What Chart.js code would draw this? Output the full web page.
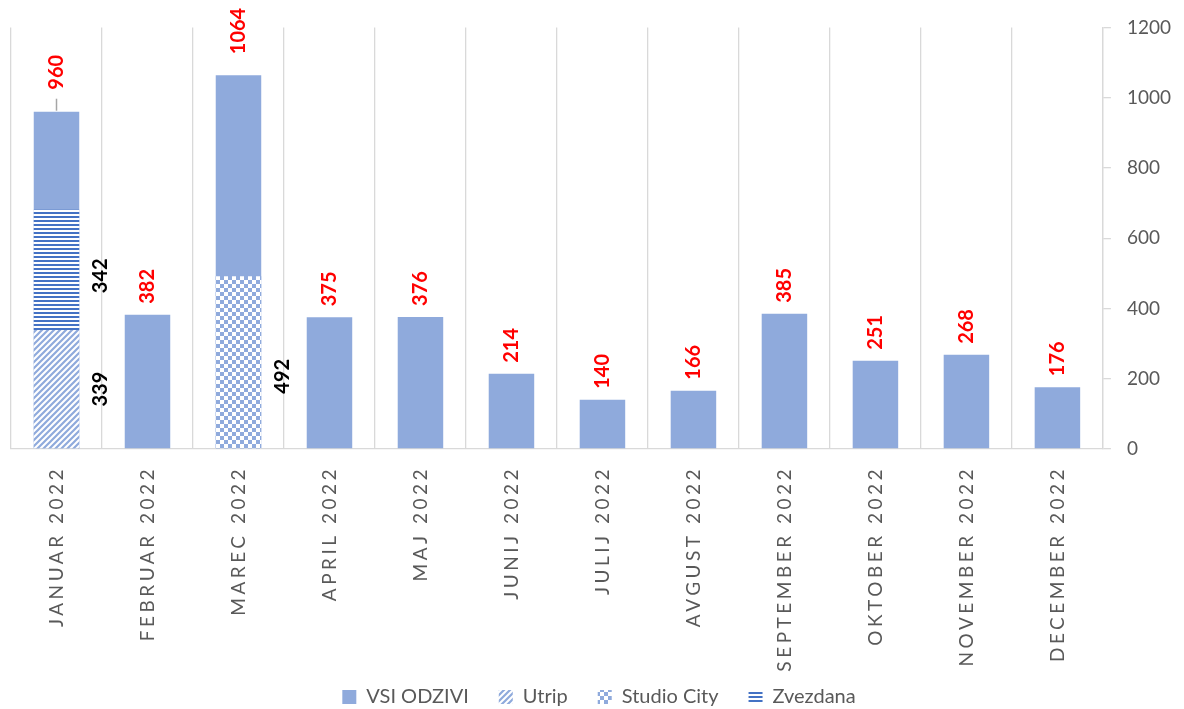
<!DOCTYPE html>
<html>
<head>
<meta charset="utf-8">
<script src="https://cdn.jsdelivr.net/npm/chart.js"></script>
<style>
  html, body { margin: 0; padding: 0; background: #fff; }
  #wrap { width: 1184px; height: 709px; }
</style>
</head>
<body>
<div id="wrap"><canvas id="myChart"></canvas></div>
<script>
const months = ['JANUAR 2022', 'FEBRUAR 2022', 'MAREC 2022', 'APRIL 2022', 'MAJ 2022', 'JUNIJ 2022',
  'JULIJ 2022', 'AVGUST 2022', 'SEPTEMBER 2022', 'OKTOBER 2022', 'NOVEMBER 2022', 'DECEMBER 2022'];
const vsiOdzivi = [960, 382, 1064, 375, 376, 214, 140, 166, 385, 251, 268, 176];
const utrip = [339, null, null, null, null, null, null, null, null, null, null, null];
const studioCity = [null, null, 492, null, null, null, null, null, null, null, null, null];
const zvezdana = [342, null, null, null, null, null, null, null, null, null, null, null];
const yMin = 0, yMax = 1200, yStep = 200;

const gray = '#595959';
const barBlue = '#8faadc';

function makePattern(w, h, paint) {
  const c = document.createElement('canvas');
  c.width = w; c.height = h;
  const g = c.getContext('2d');
  g.fillStyle = '#fff';
  g.fillRect(0, 0, w, h);
  paint(g);
  return document.getElementById('myChart').getContext('2d').createPattern(c, 'repeat');
}

// diagonal "/" stripes
const utripFill = makePattern(6, 6, g => {
  g.strokeStyle = barBlue;
  g.lineWidth = 2.2;
  g.beginPath();
  g.moveTo(-1, 7); g.lineTo(7, -1);
  g.moveTo(-4, 4); g.lineTo(4, -4);
  g.moveTo(2, 10); g.lineTo(10, 2);
  g.stroke();
});
// checkerboard
const studioFill = makePattern(8, 8, g => {
  g.fillStyle = barBlue;
  g.fillRect(0, 0, 4, 4);
  g.fillRect(4, 4, 4, 4);
});
// horizontal lines
const zvezdanaFill = makePattern(4, 4, g => {
  g.fillStyle = '#4472c4';
  g.fillRect(0, 0, 4, 2);
});

// how far above the bar the red label ends (a few were moved up in the original)
const redGap = { 0: 22, 2: 21 };
// small vertical nudges of the black labels, by dataset index
const blackNudge = { 2: 14, 3: 6 };

const valueLabels = {
  id: 'valueLabels',
  afterDatasetsDraw(chart) {
    // x tick labels are drawn after this (ticks.z = 1), spaced out like the original
    chart.ctx.letterSpacing = '3.5px';
  },
  afterDraw(chart) {
    const ctx = chart.ctx;
    ctx.letterSpacing = '0px';
    chart.data.datasets.forEach((ds, di) => {
      const meta = chart.getDatasetMeta(di);
      meta.data.forEach((bar, i) => {
        const v = ds.data[i];
        if (v == null) return;
        ctx.save();
        ctx.font = 'bold 20px Lato';
        ctx.textBaseline = 'middle';
        if (di === 0) {
          const gap = redGap[i] || 11;
          if (i === 0) {
            ctx.strokeStyle = '#a6a6a6';
            ctx.lineWidth = 1.5;
            ctx.beginPath();
            ctx.moveTo(bar.x, bar.y - 1);
            ctx.lineTo(bar.x, bar.y - 13);
            ctx.stroke();
          }
          ctx.translate(bar.x, bar.y - gap);
          ctx.rotate(-Math.PI / 2);
          ctx.textAlign = 'left';
          ctx.fillStyle = '#ff0000';
        } else {
          ctx.translate(bar.x + bar.width / 2 + 21, (bar.y + bar.base) / 2 + (blackNudge[di] || 0));
          ctx.rotate(-Math.PI / 2);
          ctx.textAlign = 'center';
          ctx.fillStyle = '#000';
        }
        ctx.fillText(String(v), 0, 0);
        ctx.restore();
      });
    });
  }
};

const data = {
  labels: months,
  datasets: [
    { label: 'VSI ODZIVI', data: vsiOdzivi, backgroundColor: barBlue, stack: 'all', order: 1 },
    { label: 'Utrip', data: utrip, backgroundColor: utripFill, stack: 'parts', order: 0 },
    { label: 'Studio City', data: studioCity, backgroundColor: studioFill, stack: 'parts', order: 0 },
    { label: 'Zvezdana', data: zvezdana, backgroundColor: zvezdanaFill, stack: 'parts', order: 0 }
  ]
};

const config = {
  type: 'bar',
  data: data,
  options: {
    responsive: true,
    maintainAspectRatio: false,
    animation: false,
    grouped: false,
    categoryPercentage: 1,
    barPercentage: 0.5,
    layout: { padding: { top: 27, left: 11, right: -3, bottom: -8 } },
    plugins: {
      tooltip: { enabled: false },
      legend: {
        position: 'bottom',
        labels: {
          boxWidth: 14,
          boxHeight: 14,
          padding: 30,
          color: gray,
          font: { family: 'Lato', size: 20 },
          sort: (a, b) => a.datasetIndex - b.datasetIndex
        }
      }
    },
    scales: {
      x: {
        stacked: true,
        grid: { offset: true, color: '#d9d9d9', lineWidth: 1.3, drawTicks: false },
        border: { color: '#d9d9d9', width: 1.3 },
        ticks: {
          z: 1,
          minRotation: 90,
          maxRotation: 90,
          autoSkip: false,
          padding: 17,
          color: gray,
          font: { family: 'Lato', size: 19 }
        },
        afterFit(scale) {
          scale.height = 208;
          // long labels run into the legend band, as in the original; don't clip them
          scale._computeLabelArea = () => null;
        }
      },
      y: {
        position: 'right',
        stacked: true,
        min: yMin,
        max: yMax,
        grid: { drawOnChartArea: false, drawTicks: true, tickLength: 8, color: '#d9d9d9', lineWidth: 1.3 },
        border: { color: '#d9d9d9', width: 1.3 },
        ticks: {
          stepSize: yStep,
          padding: 16,
          color: gray,
          font: { family: 'Lato', size: 19 },
          callback: v => String(v)
        }
      }
    }
  },
  plugins: [valueLabels]
};

const myChart = new Chart(document.getElementById('myChart'), config);
</script>
</body>
</html>
